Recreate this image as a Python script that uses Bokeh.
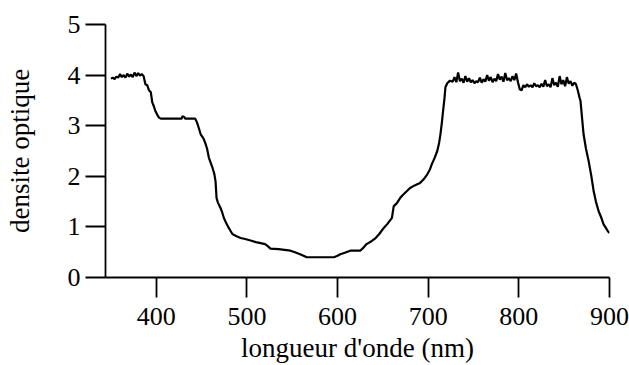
from bokeh.plotting import figure
from bokeh.models import Range1d, FixedTicker
from bokeh.embed import file_html
from bokeh.resources import INLINE

wavelength_nm = [
    350, 352, 354, 356, 358, 360, 362, 364, 366, 368, 370, 372, 374, 376, 378, 380, 382, 384, 386,
    388, 390, 392, 394, 395.6, 397, 399, 401, 403, 405, 410, 420, 428, 429, 431, 432, 443,
    445, 447, 449, 452, 454, 456, 458, 460, 462, 464, 465.4, 466.5, 468, 471, 473, 474.5, 477, 480,
    482, 484, 488, 493, 498, 504, 510, 515, 520, 523, 526, 535, 548, 553, 560, 566, 580, 596,
    600, 603, 608, 614, 620, 625, 628, 632, 636, 642, 646, 651, 655, 660, 661, 662, 665, 669,
    672, 676, 680, 685, 691, 695, 699, 702, 704, 707, 710, 712, 713.5, 715, 716.4, 718, 719, 721, 724,
    727, 729, 731, 733, 735, 737, 739, 741, 743, 745, 747, 749, 751, 753, 755, 757, 759, 761, 763,
    765, 767, 769, 771, 773, 775, 777, 779, 781, 783, 785, 787, 789, 791, 793, 795, 797, 799,
    801, 803, 805, 807, 809, 811, 813, 815, 817, 819, 821, 823, 825, 827, 829, 831, 833, 835,
    837, 839, 841, 843, 845, 847, 849, 851, 853, 855, 857, 859, 861, 863, 865, 867, 868, 870,
    871.4, 874, 877, 880, 882.5, 885, 888, 891, 893.5, 896, 898, 900,
]
optical_density = [
    3.93, 3.95, 3.92, 3.97, 3.95, 4.02, 3.96, 4.00, 3.95, 4.03, 3.97, 4.01, 3.96, 4.05, 3.98, 4.04, 3.99, 4.02, 3.98,
    3.82, 3.80, 3.70, 3.66, 3.46, 3.40, 3.29, 3.22, 3.16, 3.14, 3.14, 3.14, 3.14, 3.19, 3.17, 3.14, 3.14,
    3.06, 2.95, 2.83, 2.75, 2.66, 2.55, 2.37, 2.27, 2.17, 2.05, 1.90, 1.57, 1.48, 1.37, 1.27, 1.18, 1.08, 0.98,
    0.92, 0.86, 0.82, 0.78, 0.76, 0.73, 0.70, 0.68, 0.66, 0.62, 0.57, 0.56, 0.53, 0.50, 0.45, 0.40, 0.40, 0.40,
    0.43, 0.46, 0.49, 0.53, 0.53, 0.53, 0.58, 0.66, 0.70, 0.78, 0.86, 0.98, 1.06, 1.18, 1.30, 1.41, 1.46, 1.57,
    1.63, 1.70, 1.77, 1.82, 1.87, 1.94, 2.04, 2.14, 2.24, 2.36, 2.50, 2.66, 2.83, 3.05, 3.29, 3.55, 3.76, 3.84, 3.89,
    3.87, 3.96, 3.86, 4.05, 3.88, 3.93, 3.85, 3.98, 3.87, 3.94, 3.86, 3.90, 3.84, 3.88, 3.86, 3.95, 3.85, 3.92, 3.87,
    4.00, 3.89, 3.96, 3.86, 3.93, 3.88, 4.02, 3.91, 3.97, 3.87, 4.04, 3.90, 3.94, 3.88, 3.98, 3.90, 4.03, 3.86,
    3.72, 3.70, 3.80, 3.76, 3.82, 3.77, 3.80, 3.76, 3.84, 3.78, 3.80, 3.76, 3.83, 3.77, 3.90, 3.78, 3.82, 3.76,
    3.94, 3.80, 3.85, 3.77, 3.98, 3.82, 3.90, 3.78, 3.96, 3.83, 3.88, 3.79, 3.85, 3.82, 3.70, 3.55, 3.49, 3.10,
    2.83, 2.55, 2.30, 2.00, 1.71, 1.50, 1.31, 1.18, 1.05, 0.98, 0.92, 0.88,
]
x_ticks = [400, 500, 600, 700, 800, 900]
y_ticks = [0, 1, 2, 3, 4, 5]

FONT = "Liberation Serif"

p = figure(width=629, height=365, output_backend="svg", toolbar_location=None,
           x_range=Range1d(344, 900), y_range=Range1d(0, 5),
           min_border_left=105, min_border_right=20, min_border_top=24, min_border_bottom=88)
p.outline_line_color = None
p.grid.visible = False
p.background_fill_color = "white"
p.border_fill_color = "white"

p.line(wavelength_nm, optical_density, line_color="black", line_width=2.2)

for ax in (p.xaxis[0], p.yaxis[0]):
    ax.axis_line_color = "black"
    ax.axis_line_width = 1.8
    ax.major_tick_line_color = "black"
    ax.major_tick_line_width = 1.8
    ax.major_tick_out = 20
    ax.major_tick_in = 0
    ax.minor_tick_line_color = None
    ax.major_label_text_font = FONT
    ax.major_label_text_font_size = "26px"
    ax.major_label_text_color = "black"
    ax.axis_label_text_font = FONT
    ax.axis_label_text_font_size = "27px"
    ax.axis_label_text_font_style = "normal"
    ax.axis_label_text_color = "black"

p.xaxis.ticker = FixedTicker(ticks=x_ticks)
p.yaxis.ticker = FixedTicker(ticks=y_ticks)
p.xaxis.axis_label = "longueur d'onde (nm)"
p.yaxis.axis_label = "densite optique"
p.xaxis.major_label_standoff = 10
p.xaxis.axis_label_standoff = 5
p.yaxis.major_label_standoff = 5
p.yaxis.axis_label_standoff = 30

open("out.html", "w").write(file_html(p, INLINE))
